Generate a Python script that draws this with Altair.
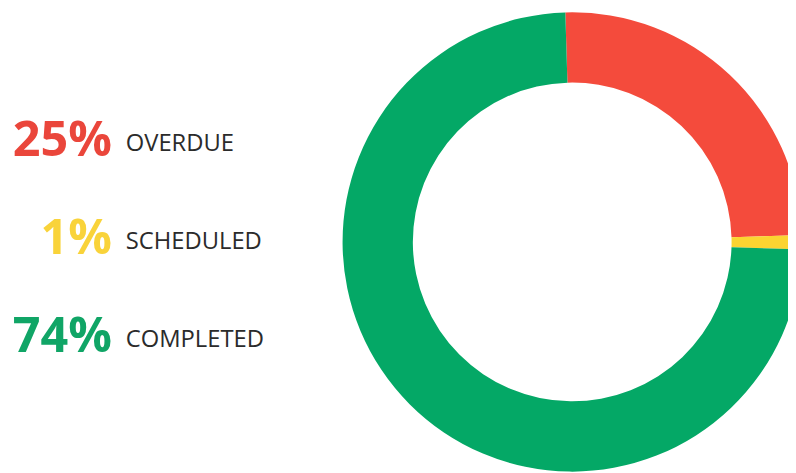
import math
import altair as alt
import pandas as pd

categories = ["OVERDUE", "SCHEDULED", "COMPLETED"]
values = [25, 1, 74]
slice_colors = ["#F44B3C", "#FBD431", "#04A866"]
text_colors = ["#EA463B", "#F9D33A", "#10A566"]

df = pd.DataFrame({
    "category": categories,
    "value": values,
    "order": list(range(len(categories))),
})
df["pct"] = [f"{v}%" for v in values]

rot = -0.03
arc = alt.Chart(df).mark_arc(innerRadius=161, outerRadius=232).encode(
    theta=alt.Theta("value:Q", stack=True,
                    scale=alt.Scale(range=[rot, rot + 2 * math.pi])),
    color=alt.Color("category:N", legend=None,
                    scale=alt.Scale(domain=categories, range=slice_colors)),
    order=alt.Order("order:Q"),
    x=alt.value(570),
    y=alt.value(234),
)

yscale = alt.Scale(domain=categories, range=[147, 345], type="point", padding=0)

pct = alt.Chart(df).mark_text(
    align="right", baseline="alphabetic", font="Open Sans",
    fontWeight="bold", fontSize=49,
).encode(
    x=alt.value(105),
    y=alt.Y("category:N", scale=yscale, axis=None),
    text="pct:N",
    color=alt.Color("category:N", legend=None,
                    scale=alt.Scale(domain=categories, range=text_colors)),
)

lab = alt.Chart(df).mark_text(
    align="left", baseline="alphabetic", font="Open Sans",
    fontSize=24, color="#2B2B2B", dy=-5,
).encode(
    x=alt.value(119),
    y=alt.Y("category:N", scale=yscale, axis=None),
    text="category:N",
)

chart = alt.layer(arc, pct, lab).resolve_scale(color="independent").properties(
    width=788, height=465, padding=0,
    autosize=alt.AutoSizeParams(type="none"),
).configure_view(stroke=None)

chart.save("out.html", embed_options={"renderer": "svg", "actions": False})
